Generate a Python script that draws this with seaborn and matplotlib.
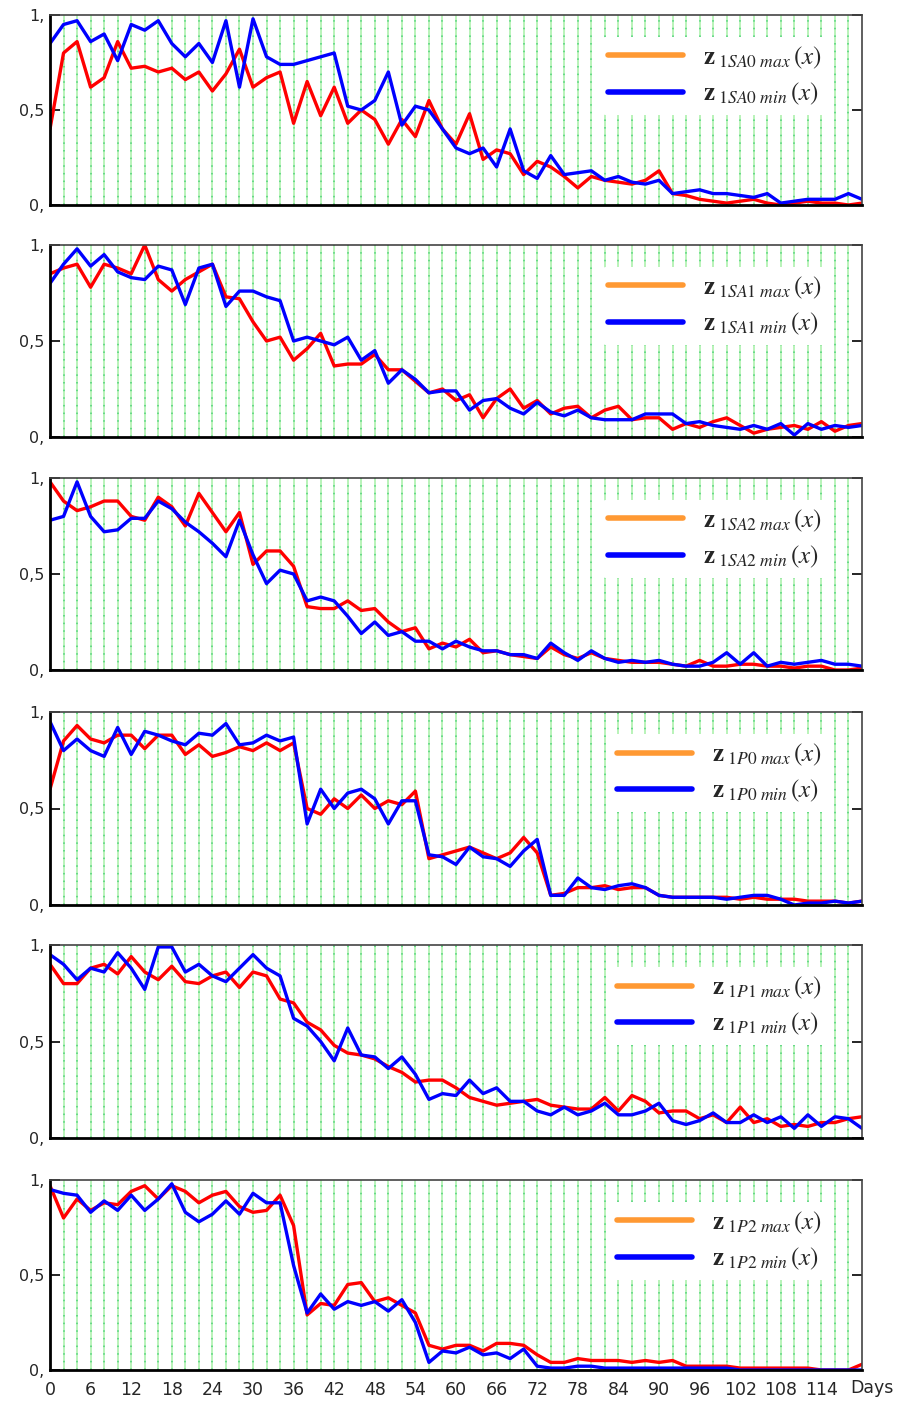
import numpy as np
import pandas as pd
import matplotlib
matplotlib.use("Agg")
import matplotlib.pyplot as plt
from matplotlib.lines import Line2D
import seaborn as sns

# dias (cada 2 dias) y valores
days = np.arange(0, 121, 2)

sa0_max = [0.40, 0.80, 0.86, 0.62, 0.67, 0.86, 0.72, 0.73, 0.70, 0.72, 0.66, 0.70, 0.60, 0.69, 0.82, 0.62,
           0.67, 0.70, 0.43, 0.65, 0.47, 0.62, 0.43, 0.50, 0.45, 0.32, 0.45, 0.36, 0.55, 0.40, 0.32, 0.48,
           0.24, 0.29, 0.27, 0.16, 0.23, 0.20, 0.15, 0.09, 0.15, 0.13, 0.12, 0.11, 0.13, 0.18, 0.06, 0.05,
           0.03, 0.02, 0.01, 0.02, 0.03, 0.01, 0.00, 0.01, 0.02, 0.01, 0.01, 0.00, 0.01]
sa0_min = [0.85, 0.95, 0.97, 0.86, 0.90, 0.76, 0.95, 0.92, 0.97, 0.85, 0.78, 0.85, 0.75, 0.97, 0.62, 0.98,
           0.78, 0.74, 0.74, 0.76, 0.78, 0.80, 0.52, 0.50, 0.55, 0.70, 0.42, 0.52, 0.50, 0.40, 0.30, 0.27,
           0.30, 0.20, 0.40, 0.18, 0.14, 0.26, 0.16, 0.17, 0.18, 0.13, 0.15, 0.12, 0.11, 0.13, 0.06, 0.07,
           0.08, 0.06, 0.06, 0.05, 0.04, 0.06, 0.01, 0.02, 0.03, 0.03, 0.03, 0.06, 0.03]

sa1_max = [0.85, 0.88, 0.90, 0.78, 0.90, 0.88, 0.85, 1.00, 0.82, 0.76, 0.82, 0.86, 0.90, 0.73, 0.72, 0.60,
           0.50, 0.52, 0.40, 0.46, 0.54, 0.37, 0.38, 0.38, 0.43, 0.35, 0.35, 0.29, 0.23, 0.25, 0.19, 0.22,
           0.10, 0.20, 0.25, 0.15, 0.19, 0.12, 0.15, 0.16, 0.10, 0.14, 0.16, 0.09, 0.10, 0.10, 0.04, 0.07,
           0.05, 0.08, 0.10, 0.06, 0.02, 0.04, 0.05, 0.06, 0.04, 0.08, 0.03, 0.06, 0.07]
sa1_min = [0.80, 0.90, 0.98, 0.89, 0.95, 0.86, 0.83, 0.82, 0.89, 0.87, 0.69, 0.88, 0.90, 0.68, 0.76, 0.76,
           0.73, 0.71, 0.50, 0.52, 0.50, 0.48, 0.52, 0.40, 0.45, 0.28, 0.35, 0.30, 0.23, 0.24, 0.24, 0.14,
           0.19, 0.20, 0.15, 0.12, 0.18, 0.13, 0.11, 0.14, 0.10, 0.09, 0.09, 0.09, 0.12, 0.12, 0.12, 0.07,
           0.08, 0.06, 0.05, 0.04, 0.06, 0.04, 0.07, 0.01, 0.07, 0.04, 0.06, 0.05, 0.06]

sa2_max = [0.98, 0.88, 0.83, 0.85, 0.88, 0.88, 0.80, 0.78, 0.90, 0.85, 0.75, 0.92, 0.82, 0.72, 0.82, 0.55,
           0.62, 0.62, 0.54, 0.33, 0.32, 0.32, 0.36, 0.31, 0.32, 0.25, 0.20, 0.22, 0.11, 0.14, 0.12, 0.16,
           0.09, 0.10, 0.08, 0.07, 0.06, 0.12, 0.08, 0.06, 0.09, 0.06, 0.05, 0.04, 0.04, 0.04, 0.03, 0.02,
           0.05, 0.02, 0.02, 0.03, 0.03, 0.02, 0.02, 0.01, 0.02, 0.02, 0.00, 0.00, 0.01]
sa2_min = [0.78, 0.80, 0.98, 0.80, 0.72, 0.73, 0.79, 0.79, 0.88, 0.84, 0.77, 0.72, 0.66, 0.59, 0.78, 0.60,
           0.45, 0.52, 0.50, 0.36, 0.38, 0.36, 0.28, 0.19, 0.25, 0.18, 0.20, 0.15, 0.15, 0.11, 0.15, 0.12,
           0.10, 0.10, 0.08, 0.08, 0.06, 0.14, 0.09, 0.05, 0.10, 0.06, 0.04, 0.05, 0.04, 0.05, 0.03, 0.02,
           0.02, 0.04, 0.09, 0.03, 0.09, 0.02, 0.04, 0.03, 0.04, 0.05, 0.03, 0.03, 0.02]

p0_max = [0.60, 0.85, 0.93, 0.86, 0.84, 0.88, 0.88, 0.81, 0.88, 0.88, 0.78, 0.83, 0.77, 0.79, 0.82, 0.80,
          0.84, 0.80, 0.84, 0.50, 0.47, 0.55, 0.50, 0.57, 0.50, 0.54, 0.52, 0.59, 0.24, 0.26, 0.28, 0.30,
          0.27, 0.24, 0.27, 0.35, 0.27, 0.05, 0.06, 0.09, 0.09, 0.10, 0.08, 0.09, 0.09, 0.05, 0.04, 0.04,
          0.04, 0.04, 0.04, 0.03, 0.04, 0.03, 0.03, 0.03, 0.02, 0.02, 0.02, 0.01, 0.02]
p0_min = [0.95, 0.80, 0.86, 0.80, 0.77, 0.92, 0.78, 0.90, 0.88, 0.85, 0.83, 0.89, 0.88, 0.94, 0.83, 0.84,
          0.88, 0.85, 0.87, 0.42, 0.60, 0.50, 0.58, 0.60, 0.55, 0.42, 0.54, 0.54, 0.26, 0.25, 0.21, 0.30,
          0.25, 0.24, 0.20, 0.28, 0.34, 0.05, 0.05, 0.14, 0.09, 0.08, 0.10, 0.11, 0.09, 0.05, 0.04, 0.04,
          0.04, 0.04, 0.03, 0.04, 0.05, 0.05, 0.03, 0.00, 0.01, 0.01, 0.02, 0.01, 0.02]

p1_max = [0.90, 0.80, 0.80, 0.88, 0.90, 0.85, 0.94, 0.86, 0.82, 0.89, 0.81, 0.80, 0.84, 0.86, 0.78, 0.86,
          0.84, 0.72, 0.70, 0.60, 0.56, 0.48, 0.44, 0.43, 0.41, 0.37, 0.34, 0.29, 0.30, 0.30, 0.26, 0.21,
          0.19, 0.17, 0.18, 0.19, 0.20, 0.17, 0.16, 0.15, 0.15, 0.21, 0.14, 0.22, 0.19, 0.13, 0.14, 0.14,
          0.10, 0.12, 0.08, 0.16, 0.08, 0.10, 0.06, 0.07, 0.06, 0.08, 0.08, 0.10, 0.11]
p1_min = [0.95, 0.90, 0.82, 0.88, 0.86, 0.96, 0.88, 0.77, 0.99, 0.99, 0.86, 0.90, 0.84, 0.81, 0.88, 0.95,
          0.88, 0.84, 0.62, 0.58, 0.50, 0.40, 0.57, 0.43, 0.42, 0.36, 0.42, 0.33, 0.20, 0.23, 0.22, 0.30,
          0.23, 0.26, 0.19, 0.19, 0.14, 0.12, 0.16, 0.12, 0.14, 0.18, 0.12, 0.12, 0.14, 0.18, 0.09, 0.07,
          0.09, 0.13, 0.08, 0.08, 0.12, 0.08, 0.11, 0.05, 0.12, 0.06, 0.11, 0.10, 0.05]

p2_max = [0.97, 0.80, 0.90, 0.84, 0.88, 0.87, 0.94, 0.97, 0.90, 0.97, 0.94, 0.88, 0.92, 0.94, 0.86, 0.83,
          0.84, 0.92, 0.76, 0.29, 0.35, 0.34, 0.45, 0.46, 0.36, 0.38, 0.34, 0.30, 0.13, 0.11, 0.13, 0.13,
          0.10, 0.14, 0.14, 0.13, 0.08, 0.04, 0.04, 0.06, 0.05, 0.05, 0.05, 0.04, 0.05, 0.04, 0.05, 0.02,
          0.02, 0.02, 0.02, 0.01, 0.01, 0.01, 0.01, 0.01, 0.01, 0.00, 0.00, 0.00, 0.03]
p2_min = [0.95, 0.93, 0.92, 0.83, 0.89, 0.84, 0.92, 0.84, 0.90, 0.98, 0.83, 0.78, 0.82, 0.89, 0.82, 0.93,
          0.88, 0.88, 0.55, 0.30, 0.40, 0.32, 0.36, 0.34, 0.36, 0.31, 0.37, 0.25, 0.04, 0.10, 0.09, 0.12,
          0.08, 0.09, 0.06, 0.11, 0.02, 0.01, 0.01, 0.02, 0.02, 0.01, 0.01, 0.01, 0.01, 0.01, 0.01, 0.01,
          0.01, 0.01, 0.01, 0.00, 0.00, 0.00, 0.00, 0.00, 0.00, 0.00, 0.00, 0.00, 0.00]

names = ["1SA0", "1SA1", "1SA2", "1P0", "1P1", "1P2"]
max_series = [sa0_max, sa1_max, sa2_max, p0_max, p1_max, p2_max]
min_series = [sa0_min, sa1_min, sa2_min, p0_min, p1_min, p2_min]

tick_days = list(range(0, 121, 6))
tick_labels = [str(d) for d in range(0, 115, 6)] + [""]
ytick_labels = ["0,", "0,5", "1,"]

plt.rcParams['mathtext.fontset'] = 'stix'
sns.set_style("white")
plt.rcParams['font.family'] = ['DejaVu Sans']

fig = plt.figure(figsize=(9, 14.11), dpi=100)
H = 1411.0
tops = [15, 245, 478, 712, 945, 1180]
bottoms = [205, 437, 670, 905, 1138, 1370]

for i, name in enumerate(names):
    ax = fig.add_axes([50 / 900, 1 - bottoms[i] / H, 812 / 900, (bottoms[i] - tops[i]) / H])
    # rejilla verde vertical
    for g in range(2, 120, 2):
        ax.axvline(g, color="#a6f0a6", lw=1.1, zorder=0)
        ax.axvline(g, color="#4fd27a", lw=1.1, ls=(0, (1, 4)), zorder=0)

    df = pd.DataFrame({"day": days, "max": max_series[i], "min": min_series[i]})
    sns.lineplot(data=df, x="day", y="max", color="#ff0000", lw=2.4, ax=ax)
    sns.lineplot(data=df, x="day", y="min", color="#0000ff", lw=2.4, ax=ax)

    ax.set_xlim(0, 120)
    ax.set_ylim(0, 1)
    ax.set_xlabel("")
    ax.set_ylabel("")
    ax.set_yticks([0, 0.5, 1])
    ax.set_yticklabels(ytick_labels, fontsize=11.5)
    ax.set_xticks(tick_days)
    if i == len(names) - 1:
        ax.set_xticklabels(tick_labels, fontsize=12.5)
        # "Days" en la posicion del ultimo tick, algo desplazado a la derecha
        ax.annotate("Days", xy=(120, 0), xycoords=("data", "axes fraction"), xytext=(7, -6.5),
                    textcoords="offset points", ha="center", va="top", fontsize=12.5)
    else:
        ax.set_xticklabels([])
    ax.tick_params(axis="x", direction="in", length=6, width=1.5, color="#660066", pad=8)
    ax.tick_params(axis="y", direction="in", length=7, width=1.2, color="black", left=True, right=True, pad=4)
    for s in ["left", "bottom"]:
        ax.spines[s].set_color("black")
        ax.spines[s].set_linewidth(2)
    for s in ["top", "right"]:
        ax.spines[s].set_color("#444444")
        ax.spines[s].set_linewidth(1.2)

    handles = [Line2D([], [], color="#ff9933", lw=4), Line2D([], [], color="#0000ff", lw=4)]
    labels = [r"$\mathbf{z}_{\ \mathit{" + name + r"\ max}}\,(\mathbf{\mathit{x}})$",
              r"$\mathbf{z}_{\ \mathit{" + name + r"\ min}}\,(\mathbf{\mathit{x}})$"]
    leg = ax.legend(handles, labels, loc="upper right", bbox_to_anchor=(0.975, 0.95), fontsize=18,
                    frameon=True, facecolor="white", edgecolor="none", framealpha=1,
                    handlelength=3.0, labelspacing=0.4, borderpad=0.3)

fig.savefig("out.png", dpi=100)
